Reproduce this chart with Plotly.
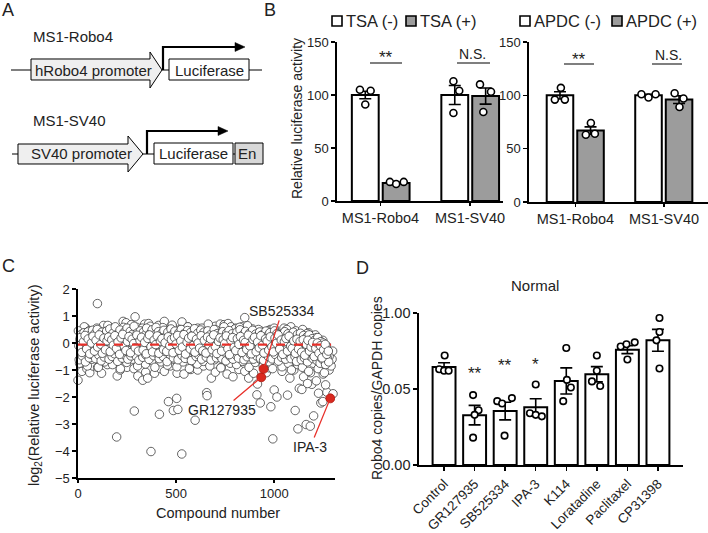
import plotly.graph_objects as go

W, H = 708, 533
FONT = "Liberation Sans, Arial, Helvetica, sans-serif"


def px(x):
    return x / W


def py(y):
    return 1 - y / H


# ---------------- DATA ----------------
# Panel B (left: TSA, right: APDC)
b_categories = ["MS1-Robo4", "MS1-SV40"]
b_ticks = [0, 50, 100, 150]
tsa_neg_mean = [100, 100]
tsa_neg_sem = [3.6, 8.9]
tsa_neg_pts = [[105, 104, 91], [113, 104, 83]]
tsa_pos_mean = [17, 99]
tsa_pos_sem = [0.7, 7.6]
tsa_pos_pts = [[18, 16, 18], [110, 103, 84]]
apdc_neg_mean = [100, 100]
apdc_neg_sem = [3.4, 1.0]
apdc_neg_pts = [[107, 96, 96], [101, 98, 101]]
apdc_pos_mean = [67, 96]
apdc_pos_sem = [3.4, 3.6]
apdc_pos_pts = [[74, 63, 64], [102, 97, 89]]

# Panel C: screen of compounds (log2 relative luciferase activity)
c_band_a = [
    0.45, -0.62, 0.12, -0.25, 0.33, -0.48, 0.05, 0.38, -0.15, -0.7, 0.22, -0.35, 0.41, -0.05, -0.55, 0.28, 0.1, -0.42, 0.47, -0.2,
    -0.3, 0.35, -0.58, 0.15, 0.5, -0.1, -0.45, 0.25, 0.02, -0.66, 0.4, -0.28, 0.18, -0.52, 0.31, -0.08, 0.44, -0.38, 0.08, -0.6,
    0.52, -0.18, 0.27, -0.5, 0.36, -0.02, -0.4, 0.6, -0.25, 0.14, -0.68, 0.3, -0.12, 0.48, -0.33, 0.2, -0.56, 0.05, 0.39, -0.45,
    0.1, -0.3, 0.55, -0.6, 0.24, -0.15, 0.43, -0.48, 0.0, 0.32, -0.37, 0.62, -0.22, 0.16, -0.5, 0.37, -0.07, -0.64, 0.26, 0.45,
    -0.27, 0.13, -0.53, 0.41, -0.1, 0.29, -0.44, 0.55, -0.2, 0.07, -0.61, 0.34, -0.35, 0.21, 0.49, -0.05, -0.47, 0.3, -0.16, 0.58,
    -0.39, 0.09, 0.42, -0.58, 0.2, -0.26, 0.35, -0.12, -0.5, 0.47, 0.03, -0.32, 0.26, -0.69, 0.4, -0.08, 0.15, -0.43, 0.52, -0.21,
    0.31, -0.55, 0.06, 0.44, -0.36, 0.19, -0.1, -0.62, 0.38, 0.0, -0.29, 0.5, -0.46, 0.12, 0.33, -0.17, -0.57, 0.25, -0.04, 0.46,
    -0.41, 0.17, -0.23, 0.39, -0.65, 0.28, 0.04, -0.34, 0.53, -0.14, -0.5, 0.21, 0.36, -0.44, 0.09, -0.27, 0.48, -0.6, 0.14, -0.06,
    0.4, -0.31, 0.23, -0.52, 0.11, 0.45, -0.19, -0.4, 0.3, -0.63, 0.18, 0.02, -0.37, 0.5, -0.11, 0.26, -0.55, 0.35, -0.24, 0.07,
    -0.47, 0.32, 0.15, -0.58, 0.42, -0.09, -0.33, 0.22, -0.66, 0.37, 0.05, -0.2, 0.46, -0.49, 0.1, -0.3, 0.34, -0.6, 0.19, -0.13,
    0.28, -0.45, 0.4, -0.04, -0.56, 0.2, 0.49, -0.28, 0.06, -0.38, 0.31, -0.62, 0.13, 0.43, -0.18, -0.51, 0.24, -0.07, 0.36, -0.42,
    0.08, -0.26, 0.47, -0.6, 0.16, -0.12, 0.33, -0.48, 0.25, -0.02, -0.35, 0.41, -0.57, 0.1, 0.3, -0.21, -0.64, 0.19, -0.39, 0.44,
    -0.15, 0.27, -0.5, 0.04, 0.38, -0.32, 0.14, -0.59, 0.22, -0.08, 0.45, -0.43, 0.01, 0.35, -0.26, -0.67, 0.29, -0.13, 0.17, -0.53,
    0.24, -0.37, 0.06, 0.42, -0.6, 0.12, -0.22, 0.34, -0.46, -0.03, 0.27, -0.58, 0.2, -0.3, 0.4, -0.1, -0.5, 0.15, -0.68, 0.31,
    -0.2, 0.18, -0.45, 0.36, -0.62, 0.05, -0.3, 0.28, -0.55, 0.12, -0.4, 0.22, -0.7, -0.1, 0.3, -0.48, 0.02, -0.33, 0.16, -0.58,
    -0.25, 0.1, -0.52, -0.05, -0.65, 0.2, -0.4, -0.15, -0.75, 0.05, -0.35, -0.6, 0.0, -0.45, -0.2, -0.8, -0.1, -0.55, -0.3, -0.7,
]
c_band_b = [
    -0.1, 0.2, -0.35, 0.05, 0.28, -0.22, 0.15, -0.4, 0.0, 0.25, -0.3, 0.1, -0.15, 0.3, -0.05, -0.38, 0.18, -0.25, 0.08, 0.22,
    -0.32, 0.12, -0.08, 0.27, -0.2, 0.04, -0.42, 0.19, 0.32, -0.12, -0.28, 0.06, 0.24, -0.36, 0.14, -0.02, -0.18, 0.29, -0.3, 0.09,
    0.21, -0.26, 0.02, -0.4, 0.17, 0.3, -0.14, -0.33, 0.11, -0.06, 0.26, -0.38, 0.07, 0.16, -0.24, 0.01, -0.31, 0.23, -0.1, 0.13,
    -0.36, 0.2, -0.04, 0.28, -0.27, 0.08, -0.15, 0.31, -0.41, 0.03, 0.18, -0.22, 0.25, -0.09, -0.34, 0.14, 0.0, -0.19, 0.27, -0.29,
    0.1, -0.37, 0.22, -0.07, 0.15, -0.25, 0.3, -0.13, -0.39, 0.06, 0.19, -0.3, 0.12, -0.02, 0.26, -0.21, -0.43, 0.09, 0.2, -0.16,
    -0.28, 0.16, -0.05, 0.24, -0.35, 0.1, 0.02, -0.24, 0.29, -0.11, -0.4, 0.13, 0.21, -0.32, 0.04, -0.18, 0.27, -0.08, -0.37, 0.15,
    0.07, -0.27, 0.23, -0.14, -0.33, 0.18, -0.01, 0.3, -0.23, 0.11, -0.42, 0.05, 0.17, -0.3, 0.25, -0.12, -0.2, 0.08, -0.38, 0.14,
    -0.22, 0.06, -0.34, 0.12, -0.45, -0.05, 0.1, -0.3, -0.15, 0.02, -0.5, -0.2, 0.0, -0.38, -0.1, -0.55, -0.25, -0.05, -0.42, -0.3,
]
c_band_c = [
    -0.75, 0.3, -0.45, 0.6, -0.2, -0.85, 0.45, -0.05, -0.6, 0.35, -0.3, 0.55, -0.9, 0.15, -0.5, 0.4, -0.7, 0.05, 0.65, -0.4,
    0.25, -0.8, 0.5, -0.15, -0.55, 0.38, -0.95, 0.1, 0.58, -0.35, -0.72, 0.2, -0.25, 0.68, -0.6, 0.0, 0.42, -0.85, 0.3, -0.48,
    0.55, -0.18, -0.78, 0.35, -0.4, 0.62, -0.65, 0.12, -0.9, 0.48, -0.3, 0.2, -0.7, 0.57, -0.52, 0.08, -0.82, 0.4, -0.22, 0.66,
    -0.6, 0.33, -0.88, 0.15, 0.5, -0.42, -0.7, 0.27, -0.12, 0.6, -0.95, 0.05, 0.45, -0.58, 0.22, -0.78, 0.38, -0.3, 0.55, -0.68,
    0.18, -0.5, 0.7, -0.85, 0.3, -0.2, -0.62, 0.48, -0.4, 0.1, -0.92, 0.36, 0.6, -0.55, -0.1, 0.42, -0.75, 0.25, -0.45, 0.52,
    -0.8, 0.12, 0.58, -0.35, -0.68, 0.3, -0.15, 0.64, -0.9, 0.2, -0.5, 0.4, -0.72, 0.05, 0.5, -0.6, 0.28, -0.85, 0.35, -0.25,
    0.45, -0.7, 0.15, -0.95, 0.55, -0.4, 0.3, -0.62, 0.08, -0.88, 0.38, -0.2, 0.5, -0.75, 0.22, -1.0, 0.1, -0.55, 0.3, -0.8,
    -0.45, 0.25, -0.9, 0.05, -0.65, 0.35, -1.05, -0.2, 0.15, -0.75, -0.4, 0.2, -0.95, -0.1, -0.6, 0.1, -1.1, -0.35, -0.7, -0.5,
]
c_band_a_x = list(range(2, 2 + 4 * len(c_band_a), 4))   # compound numbers
c_band_b_x = list(range(4, 4 + 8 * len(c_band_b), 8))
c_band_c_x = list(range(8, 8 + 8 * len(c_band_c), 8))

c_extra_x = [99, 291, 0, 197, 287, 372, 415, 461, 486, 503, 509, 529, 597, 656, 658, 915, 912, 929, 983, 993,
             1000, 1014, 1068, 1107, 1121, 1128, 1141, 1163, 1184, 1201, 1192, 1226, 1238, 1248, 1269, 1300,
             20, 45, 60, 75, 100, 120, 150, 200, 215, 250, 285, 305, 330, 345, 355, 390, 420, 440, 470, 505,
             540, 575, 610, 640, 680, 700, 730, 760, 790, 820, 850, 870, 895, 960, 975, 1040, 1080, 1100, 1150,
             1170, 1185, 1215, 1250, 1262, 1280, 1290, 1295, 1298,
             40, 130, 160, 230, 245, 300, 340, 360, 410, 440, 480, 530, 560, 610, 650, 700, 725, 745, 765, 780,
             805, 835, 850, 890, 930, 980, 1050, 1085, 1110, 1145, 1175, 1210]
c_extra_y = [1.46, 0.97, -1.38, -3.48, -2.52, -4.02, -2.64, -2.17, -2.5, -2.05, -2.46, -4.11, -2.86, -1.84, -1.95, -1.52, -1.92, -2.22, -2.36, -3.55,
             -1.74, -2.0, -1.93, -2.5, -3.18, -1.68, -1.72, -3.02, -3.08, -2.7, -1.53, -1.86, -2.22, -2.17, -1.82, -1.88,
             -1.05, -0.95, -1.1, -0.85, -0.9, -1.12, -0.8, -1.22, -1.0, -0.9, -0.95, -1.22, -1.38, -1.08, -1.3, -1.12, -0.95, -1.05, -0.85, -1.12,
             -1.15, -0.98, -1.0, -0.85, -1.3, -1.08, -0.9, -1.15, -1.25, -0.98, -1.05, -1.3, -1.12, -1.1, -0.92, -1.05, -1.3, -1.0, -1.25,
             -1.5, -1.1, -1.4, -1.15, -1.55, -1.0, -0.85, -0.6, -0.3,
             0.55, 0.65, 0.6, 0.8, 0.75, 0.58, 0.7, 0.72, 0.65, 0.8, 0.62, 0.78, 0.6, 0.55, 0.5, 0.62, 0.7, 0.68, 0.72, 0.6,
             0.55, 0.6, 0.94, 0.52, 0.45, 0.5, 0.55, 0.6, 0.45, 0.5, 0.38, 0.3]
c_hit_names = ["GR127935", "SB525334", "IPA-3"]
c_hit_x = [934, 946, 1286]
c_hit_y = [-1.27, -0.96, -2.05]
c_base_x = [0, 1290]
c_base_y = [-0.06, -0.06]
c_xticks = [0, 500, 1000]
c_yticks = [-5, -4, -3, -2, -1, 0, 1, 2]

# Panel D: Robo4 / GAPDH, Normal
d_categories = ["Control", "GR127935", "SB525334", "IPA-3", "K114", "Loratadine", "Paclitaxel", "CP31398"]
d_mean = [0.0645, 0.0328, 0.0355, 0.038, 0.0553, 0.0597, 0.0759, 0.082]
d_sem = [0.0028, 0.0064, 0.0058, 0.0056, 0.0086, 0.005, 0.0026, 0.0072]
d_pts = [
    [0.072, 0.063, 0.062, 0.062],
    [0.046, 0.036, 0.033, 0.018],
    [0.042, 0.0405, 0.044, 0.0193],
    [0.053, 0.034, 0.033, 0.032],
    [0.077, 0.056, 0.051, 0.042],
    [0.072, 0.062, 0.055, 0.052],
    [0.078, 0.0794, 0.0807, 0.0694],
    [0.0967, 0.082, 0.0875, 0.0635],
]
d_stars = ["", "**", "**", "*", "", "", "", ""]
d_ytickvals = [0, 0.05, 0.1]
d_yticktext = ["0.00", "0.05", "1.00"]

# point jitter (visual layout only)
b_jit = [[-0.06, 0.06, 0.0], [-0.015, 0.05, -0.015]]
b_jit_g = [[-0.07, 0.0, 0.085], [-0.063, 0.06, -0.026]]
b2_jit = [[0.01, -0.058, 0.055], [-0.08, 0.0, 0.08]]
b2_jit_g = [[0.004, -0.053, 0.049], [-0.05, 0.05, 0.005]]
d_jit = [[0.02, -0.16, 0.0, 0.15], [-0.05, 0.13, 0.0, -0.05], [-0.26, -0.1, 0.22, -0.02], [0.0, -0.19, 0.0, 0.2],
         [0.0, 0.02, 0.15, -0.1], [0.0, 0.0, -0.16, 0.11], [-0.22, -0.03, 0.24, 0.0], [0.05, -0.05, 0.05, 0.05]]

GRAY = "#9c9c9c"

fig = go.Figure()


def add_bars(xa, ya, means, sems, color, offset, width):
    fig.add_trace(go.Bar(
        x=list(range(len(means))), y=means, width=width, offset=offset,
        marker=dict(color=color, line=dict(color="black", width=2)),
        error_y=dict(type="data", array=sems, color="black", thickness=1.6, width=6),
        xaxis=xa, yaxis=ya, showlegend=False, hoverinfo="skip"))


def add_points(xa, ya, pts, jit, center_off, size=7):
    xs, ys = [], []
    for g, (vals, js) in enumerate(zip(pts, jit)):
        for v, j in zip(vals, js):
            xs.append(g + center_off + j)
            ys.append(v)
    fig.add_trace(go.Scatter(
        x=xs, y=ys, mode="markers", cliponaxis=False,
        marker=dict(symbol="circle", size=size, color="white", line=dict(color="black", width=1.6)),
        xaxis=xa, yaxis=ya, showlegend=False, hoverinfo="skip"))


# Panel B left
add_bars("x", "y", tsa_neg_mean, tsa_neg_sem, "white", -0.32, 0.30)
add_bars("x", "y", tsa_pos_mean, tsa_pos_sem, GRAY, 0.025, 0.30)
add_points("x", "y", tsa_neg_pts, b_jit, -0.17)
add_points("x", "y", tsa_pos_pts, b_jit_g, 0.175)
# Panel B right
add_bars("x2", "y2", apdc_neg_mean, apdc_neg_sem, "white", -0.325, 0.30)
add_bars("x2", "y2", apdc_pos_mean, apdc_pos_sem, GRAY, 0.02, 0.30)
add_points("x2", "y2", apdc_neg_pts, b2_jit, -0.175)
add_points("x2", "y2", apdc_pos_pts, b2_jit_g, 0.17)

# Panel C
c_marker = dict(symbol="circle", size=8.5, color="white", line=dict(color="#333333", width=0.75))
for cx, cy in [(c_extra_x, c_extra_y), (c_band_c_x, c_band_c), (c_band_a_x, c_band_a), (c_band_b_x, c_band_b)]:
    fig.add_trace(go.Scatter(x=cx, y=cy, mode="markers", marker=c_marker, cliponaxis=False,
                             xaxis="x3", yaxis="y3", showlegend=False, hoverinfo="skip"))
fig.add_trace(go.Scatter(x=c_base_x, y=c_base_y, mode="lines",
                         line=dict(color="#e8302a", width=2.2, dash="dash"),
                         xaxis="x3", yaxis="y3", showlegend=False, hoverinfo="skip"))
fig.add_trace(go.Scatter(x=c_hit_x, y=c_hit_y, mode="markers",
                         marker=dict(size=9, color="#d9291f", line=dict(color="#b01a12", width=0.8)),
                         xaxis="x3", yaxis="y3", showlegend=False, hoverinfo="skip"))

# Panel D
add_bars("x4", "y4", d_mean, d_sem, "white", -0.375, 0.75)
add_points("x4", "y4", d_pts, d_jit, 0.0, size=6.5)

axis_common = dict(showline=True, linecolor="black", linewidth=1.6, ticks="outside", ticklen=4,
                   tickwidth=1.5, tickcolor="black", showgrid=False, zeroline=False, automargin=False,
                   tickfont=dict(family=FONT, size=13, color="#222"), fixedrange=True)

layout = dict(
    template="none",
    width=W, height=H, margin=dict(l=0, r=0, t=0, b=0, pad=0), autosize=False,
    paper_bgcolor="white", plot_bgcolor="rgba(0,0,0,0)",
    barmode="overlay", showlegend=False,
    font=dict(family=FONT, color="#222"),
    xaxis=dict(axis_common, domain=[px(337), px(503)], range=[-0.486, 1.369], tickvals=[0, 1],
               ticktext=b_categories, tickfont=dict(family=FONT, size=14.5, color="#222"), anchor="y", ticklen=3),
    yaxis=dict(axis_common, domain=[py(201), py(42)], range=[0, 150], tickvals=b_ticks, anchor="x"),
    xaxis2=dict(axis_common, domain=[px(529), px(708)], range=[-0.525, 1.497], tickvals=[0, 1],
                ticktext=b_categories, tickfont=dict(family=FONT, size=14.5, color="#222"), anchor="y2", ticklen=3),
    yaxis2=dict(axis_common, domain=[py(202), py(42)], range=[0, 150], tickvals=b_ticks, anchor="x2"),
    xaxis3=dict(axis_common, domain=[px(78), px(335)], range=[0, 1310], tickvals=c_xticks, anchor="y3",
                ticklen=3),
    yaxis3=dict(axis_common, domain=[py(478), py(289)], range=[-5, 2], tickvals=c_yticks, anchor="x3"),
    xaxis4=dict(axis_common, domain=[px(419), px(683)], range=[-0.82, 7.82], tickvals=list(range(8)),
                ticktext=d_categories, tickangle=-45, tickfont=dict(family=FONT, size=13.5, color="#222"),
                anchor="y4"),
    yaxis4=dict(axis_common, domain=[py(465), py(313)], range=[0, 0.1], tickvals=d_ytickvals,
                ticktext=d_yticktext, tickfont=dict(family=FONT, size=14.5, color="#222"), anchor="x4"),
)

shapes = []
annotations = []


def text(x, y, s, size=15, xanchor="center", angle=0, color="#222"):
    annotations.append(dict(x=px(x), y=py(y), xref="paper", yref="paper", text=s, showarrow=False,
                            xanchor=xanchor, yanchor="middle", textangle=angle,
                            font=dict(family=FONT, size=size, color=color)))


def line(x0, y0, x1, y1, color="black", width=1.2):
    shapes.append(dict(type="line", xref="paper", yref="paper", x0=px(x0), y0=py(y0), x1=px(x1), y1=py(y1),
                       line=dict(color=color, width=width)))


def poly(points, fill, color="black", width=1.0):
    path = "M " + " L ".join(f"{px(a):.5f},{py(b):.5f}" for a, b in points) + " Z"
    shapes.append(dict(type="path", xref="paper", yref="paper", path=path, fillcolor=fill,
                       line=dict(color=color, width=width)))


def rect(x0, y0, x1, y1, fill, width=1.0):
    shapes.append(dict(type="rect", xref="paper", yref="paper", x0=px(x0), y0=py(y0), x1=px(x1), y1=py(y1),
                       fillcolor=fill, line=dict(color="black", width=width)))


# ---- Panel A (construct diagrams) ----
text(8, 10, "A", size=18)
text(31, 37, "MS1-Robo4", size=15, xanchor="left")
line(11, 70, 262, 70)
poly([(31, 59), (150, 59), (150, 52), (162, 70), (150, 88), (150, 80), (31, 80)], "#efefef")
rect(169, 59, 249, 80, "white")
text(93, 70, "hRobo4 promoter", size=15)
text(209, 70, "Luciferase", size=15)
shapes.append(dict(type="path", xref="paper", yref="paper",
                   path=f"M {px(163)},{py(70)} L {px(163)},{py(47)} L {px(237)},{py(47)}",
                   line=dict(color="black", width=2.2)))
poly([(235, 42.5), (245, 47), (235, 51.5)], "black", width=0.5)

text(31, 120, "MS1-SV40", size=15, xanchor="left")
line(12, 154, 262, 154)
poly([(18, 144), (128, 144), (128, 136), (143, 154), (128, 172), (128, 164), (18, 164)], "#efefef")
rect(154, 143, 233, 164, "white")
rect(235, 143, 263, 164, "#d8d8d8")
text(81, 154, "SV40 promoter", size=15)
text(193, 154, "Luciferase", size=15)
text(247, 154, "En", size=15)
shapes.append(dict(type="path", xref="paper", yref="paper",
                   path=f"M {px(147)},{py(154)} L {px(147)},{py(131)} L {px(220)},{py(131)}",
                   line=dict(color="black", width=2.2)))
poly([(218, 126.5), (228, 131), (218, 135.5)], "black", width=0.5)

# ---- Panel B ----
text(270, 10, "B", size=18)
text(297, 119, "Relative luciferase activity", size=14, angle=-90)
rect(332, 16, 342, 26, "white", width=1.6)
text(344, 21, "TSA (-)", size=16.5, xanchor="left")
rect(406, 16, 416, 26, GRAY, width=1.6)
text(418, 21, "TSA (+)", size=16.5, xanchor="left")
rect(520, 16, 530, 26, "white", width=1.6)
text(532, 21, "APDC (-)", size=16.5, xanchor="left")
rect(612, 16, 622, 26, GRAY, width=1.6)
text(624, 21, "APDC (+)", size=16.5, xanchor="left")
line(370, 63, 402, 63, color="#555", width=1.5)
text(386, 58, "**", size=17)
line(457, 63, 490, 63, color="#555", width=1.5)
text(472, 54, "N.S.", size=14)
line(564, 64, 594, 64, color="#555", width=1.5)
text(579, 59, "**", size=17)
line(652, 64, 682, 64, color="#555", width=1.5)
text(668, 55, "N.S.", size=14)

# ---- Panel C ----
text(8, 266, "C", size=18)
text(35, 386, "log<sub>2</sub>(Relative luciferase activity)", size=14.5, angle=-90)
text(218, 513, "Compound number", size=14.5)
label_pos = {"SB525334": (1041, 1.19), "GR127935": (735, -2.48), "IPA-3": (1184, -3.85)}
for name, hx, hy in zip(c_hit_names, c_hit_x, c_hit_y):
    lx, ly = label_pos[name]
    annotations.append(dict(x=hx, y=hy, xref="x3", yref="y3", ax=lx, ay=ly, axref="x3", ayref="y3",
                            text=name, showarrow=True, arrowhead=0, arrowwidth=1.3, arrowcolor="#e8302a",
                            standoff=3, font=dict(family=FONT, size=14, color="#222")))

# ---- Panel D ----
text(362, 268, "D", size=18)
text(535, 285, "Normal", size=15)
text(377, 388, "Robo4 copies/GAPDH copies", size=14, angle=-90)
d_star_y = [0, 0.0600, 0.0655, 0.066, 0, 0, 0, 0]
for i, (s, sy) in enumerate(zip(d_stars, d_star_y)):
    if s:
        annotations.append(dict(x=i, y=sy, xref="x4", yref="y4", text=s, showarrow=False,
                                font=dict(family=FONT, size=17, color="#222")))

layout["shapes"] = shapes
layout["annotations"] = annotations
fig.update_layout(**layout)
fig.write_html("out.html", config={"displayModeBar": False, "staticPlot": True},
               post_script="document.body.style.margin='0';document.body.style.overflow='hidden';")
